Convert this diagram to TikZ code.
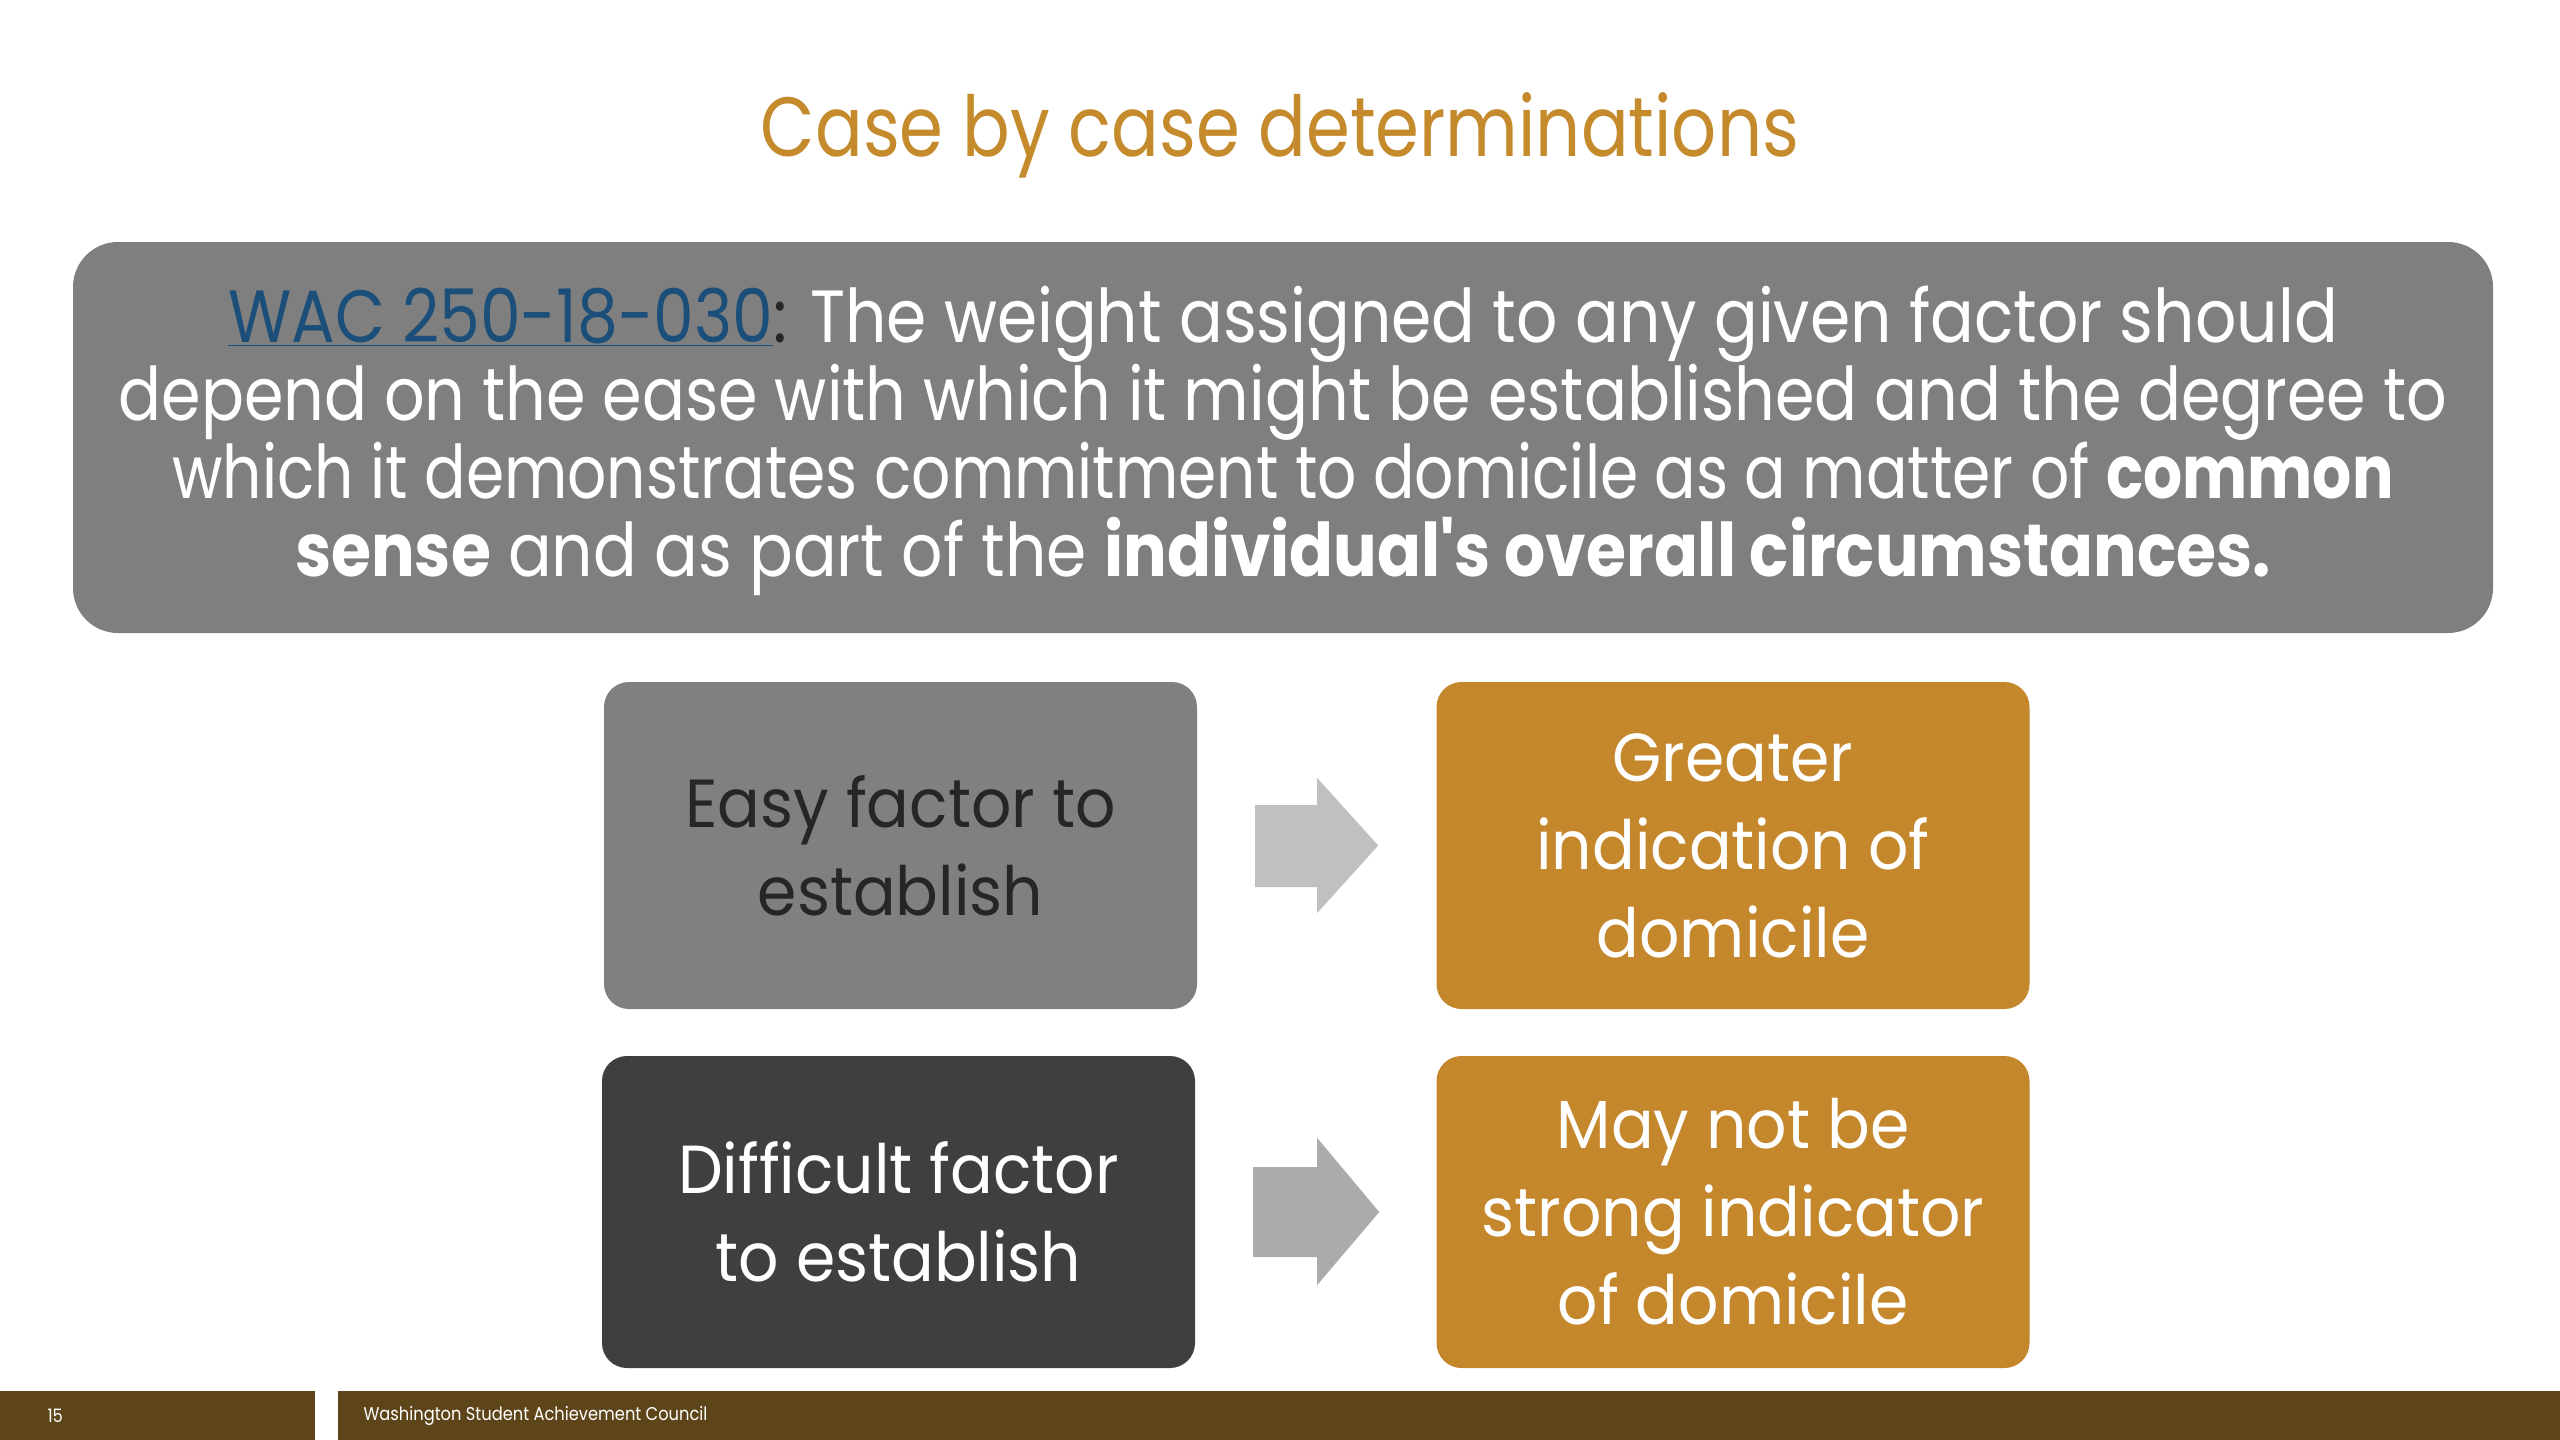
\documentclass[tikz,border=0pt]{standalone}
\usepackage{fontspec}
\setmainfont{Poppins}
\newfontfamily\titlefont[FakeStretch=0.84]{Poppins}
\newfontfamily\bodyfont[FakeStretch=0.875]{Poppins}
\newfontfamily\boxfont[FakeStretch=0.93]{Poppins}
\newfontfamily\footfont[FakeStretch=0.88]{Poppins}
\usetikzlibrary{calc}
\definecolor{titlegold}{HTML}{C48A2C}
\definecolor{boxgold}{HTML}{C4872C}
\definecolor{biggray}{HTML}{7F7F7F}
\definecolor{lightbox}{HTML}{808080}
\definecolor{darkbox}{HTML}{3F3F3F}
\definecolor{arrowA}{HTML}{C0C0C0}
\definecolor{arrowB}{HTML}{ABABAB}
\definecolor{footbrown}{HTML}{5E4519}
\definecolor{linkblue}{HTML}{1B4F7A}
\definecolor{darktext}{HTML}{262626}
\tikzset{
  smallbox/.style={rounded corners=25pt, minimum width=593pt, minimum height=327pt, inner sep=0pt, align=center,
    font=\boxfont\fontsize{68}{88}\selectfont},
  footbar/.style={fill=footbrown, draw=none},
  foottext/.style={text=white, font=\footfont\fontsize{18.5}{20}\selectfont, anchor=west},
}
\begin{document}
\begin{tikzpicture}[x=1pt,y=-1pt]
\useasboundingbox (0,0) rectangle (2560,1440);
\fill[white] (0,0) rectangle (2560,1440);
% title
\node[font=\titlefont\fontsize{84}{100}\selectfont, text=titlegold] (title) at (1280,135) {Case by case determinations};
% big box
\node[fill=biggray, rounded corners=45pt, minimum width=2420pt, minimum height=391pt, inner sep=0pt] (wac) at (1283,437.5) {};
\node[text=white, align=center, font=\bodyfont\fontsize{74}{78}\selectfont] (wactext) at ($(wac.center)+(0,3)$)
 {{\color{linkblue}\underline{WAC 250-18-030}}{\color{darktext}:} The weight assigned to any given factor should\\
  \scalebox{0.982}[1]{depend on the ease with which it might be established and the degree to}\\
  \scalebox{0.95}[1]{which it demonstrates commitment to domicile as a matter of \textbf{common}}\\
  \textbf{sense} and as part of the \textbf{individual's overall circumstances.}};
% small boxes
\node[smallbox, fill=lightbox, text=darktext] (easy) at (900.5,845.5) {Easy factor to\\establish};
\node[smallbox, fill=boxgold, text=white] (greater) at (1733,845.5) {Greater\\indication of\\domicile};
\node[smallbox, fill=darkbox, text=white, minimum height=312pt] (difficult) at (898.5,1212) {Difficult factor\\to establish};
\node[smallbox, fill=boxgold, text=white, minimum height=312pt] (maynot) at (1733,1212) {May not be\\strong indicator\\of domicile};
% arrows
\fill[arrowA] ($(easy.east)+(58,-40.5)$) -- ++(62,0) -- ++(0,-27) -- ($(easy.east)+(181,0)$) -- ($(easy.east)+(120,67.5)$) -- ++(0,-26) -- ($(easy.east)+(58,41.5)$) -- cycle;
\fill[arrowB] ($(difficult.east)+(58,-45)$) -- ++(64,0) -- ++(0,-29) -- ($(difficult.east)+(184,0)$) -- ($(difficult.east)+(122,73)$) -- ++(0,-28) -- ($(difficult.east)+(58,45)$) -- cycle;
% footer
\fill[footbar] (0,1391) rectangle (315,1440);
\fill[footbar] (338,1391) rectangle (2560,1440);
\node[foottext] (pagenum) at (44,1416) {15};
\node[foottext] (council) at (360,1416) {Washington Student Achievement Council};
\end{tikzpicture}
\end{document}
